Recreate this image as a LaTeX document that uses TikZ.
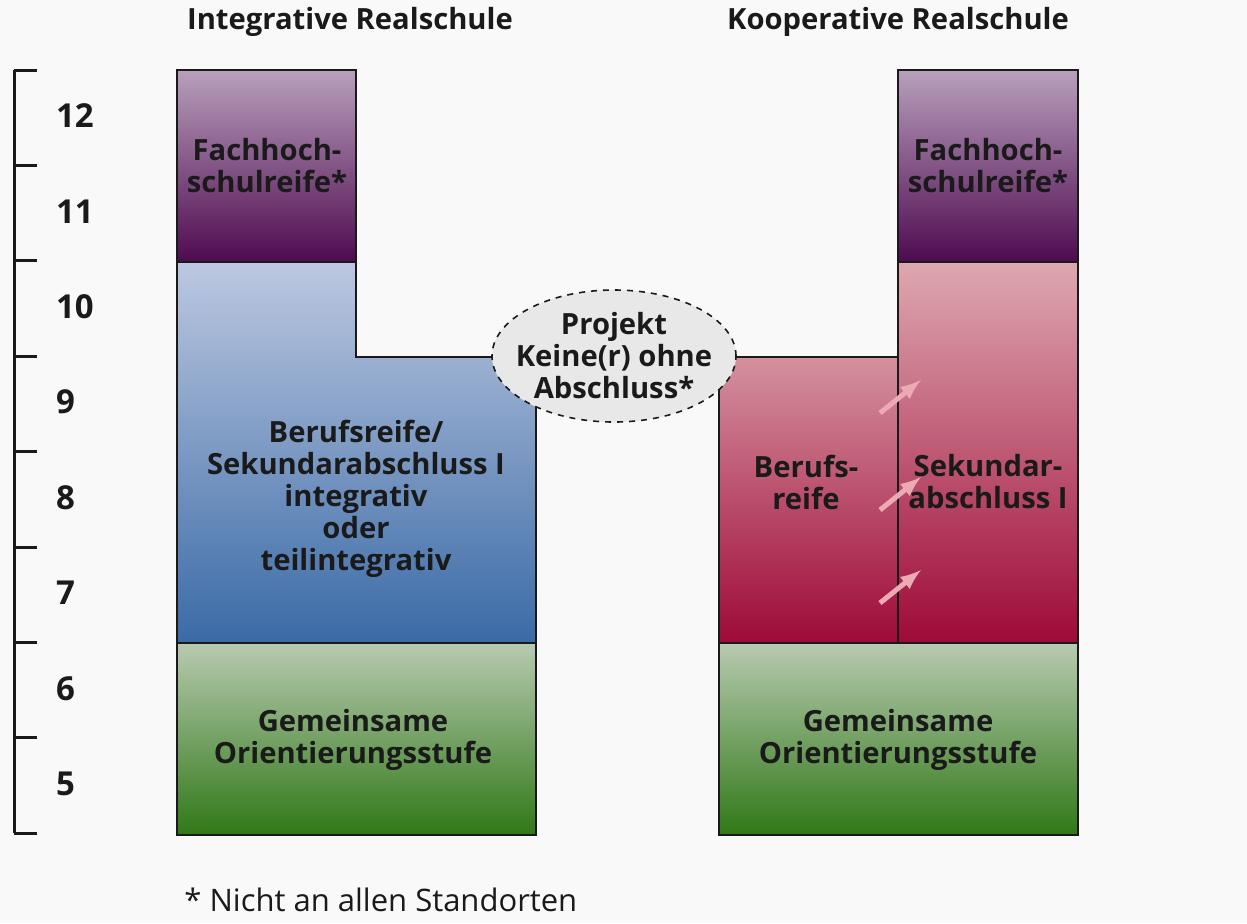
\documentclass[tikz,border=0pt]{standalone}
\usepackage{fontspec}
\setmainfont{Open Sans}[BoldFont=* Bold]
\usetikzlibrary{shapes.geometric}
\definecolor{bgcol}{HTML}{F9F9F9}
\definecolor{txtcol}{HTML}{1A1A1A}
\definecolor{purtop}{HTML}{B8A0BC}
\definecolor{purbot}{HTML}{4E0A50}
\definecolor{blutop}{HTML}{BCC8E0}
\definecolor{blubot}{HTML}{3A6AA6}
\definecolor{gretop}{HTML}{B8CAB0}
\definecolor{grebot}{HTML}{307818}
\definecolor{redtop}{HTML}{DEA8B0}
\definecolor{redbot}{HTML}{9E0A38}
\definecolor{arrcol}{HTML}{EBAAB4}

\begin{document}
\begin{tikzpicture}[x=0.5pt, y=-0.5pt,
  boxline/.style={draw=txtcol, line width=1pt},
  label/.style={font=\fontsize{14.6}{16}\selectfont\bfseries, text=txtcol, align=center},
  pinkarrow/.style={draw=arrcol, line width=2.5pt, -latex}]
\fill[bgcol] (0,0) rectangle (1247,923); % background
\clip (0,0) rectangle (1247,923);
\draw[line width=1.5pt, txtcol] (14,70) -- (14,833); % year axis
\foreach \i/\yr in {0/12,1/11,2/10,3/9,4/8,5/7,6/6,7/5} {
  \draw[line width=1.5pt, txtcol] (14,70+95.4*\i) -- (37,70+95.4*\i); % tick
  \node[font=\fontsize{16.5}{16}\selectfont\bfseries, text=txtcol, anchor=west] (yr\yr) at (49,116+95.4*\i) {\yr};
}
\draw[line width=1.5pt, txtcol] (14,833) -- (37,833);
% left school
\node[label] (titleL) at (350,22) {Integrative Realschule};
\shade[top color=purtop, bottom color=purbot, boxline] (177,70) rectangle (356,262); % FHR left
\shade[top color=blutop, bottom color=blubot, boxline] (177,262) -- (356,262) -- (356,357) -- (536,357) -- (536,643) -- (177,643) -- cycle; % BR/SekI
\shade[top color=gretop, bottom color=grebot, boxline] (177,643) rectangle (536,835); % OS left
\node[label] (fhrL) at (267,166) {Fachhoch-\\schulreife*};
\node[label] (sekL) at (356,499) {Berufsreife/\\Sekundarabschluss I\\integrativ\\oder\\teilintegrativ};
\node[label] (osL) at (353,740) {Gemeinsame\\Orientierungsstufe};
% right school
\node[label] (titleR) at (898,22) {Kooperative Realschule};
\shade[top color=purtop, bottom color=purbot, boxline] (898,70) rectangle (1078,262); % FHR right
\shade[top color=redtop, bottom color=redbot, boxline] (898,262) rectangle (1078,643); % SekI
\shade[top color=redtop!85!redbot, bottom color=redbot, boxline] (719,357) rectangle (898,643); % BR
\shade[top color=gretop, bottom color=grebot, boxline] (719,643) rectangle (1078,835); % OS right
\node[label] (fhrR) at (988,166) {Fachhoch-\\schulreife*};
\node[label] (brR) at (806,482) {Berufs-\\reife};
\node[label] (sekR) at (988,482) {Sekundar-\\abschluss I};
\node[label] (osR) at (898,740) {Gemeinsame\\Orientierungsstufe};
% Durchlaessigkeit
\foreach \k/\yy in {1/413,2/510,3/603} {
  \coordinate (a\k) at (880,\yy);
  \coordinate (b\k) at (921,\yy-33);
  \draw[pinkarrow] (a\k) -- (b\k);
}
% project
\node[ellipse, draw=txtcol, dashed, line width=0.8pt, fill=black!9, minimum width=122pt, minimum height=66pt, inner sep=0pt] (ksoring) at (614,356) {};
\node[label] (kso) at (ksoring.center) {Projekt\\Keine(r) ohne\\Abschluss*};
\node[font=\fontsize{15.5}{16}\selectfont, text=txtcol, anchor=base west, inner sep=0pt] (note) at (184,911) {* Nicht an allen Standorten};
\end{tikzpicture}
\end{document}
